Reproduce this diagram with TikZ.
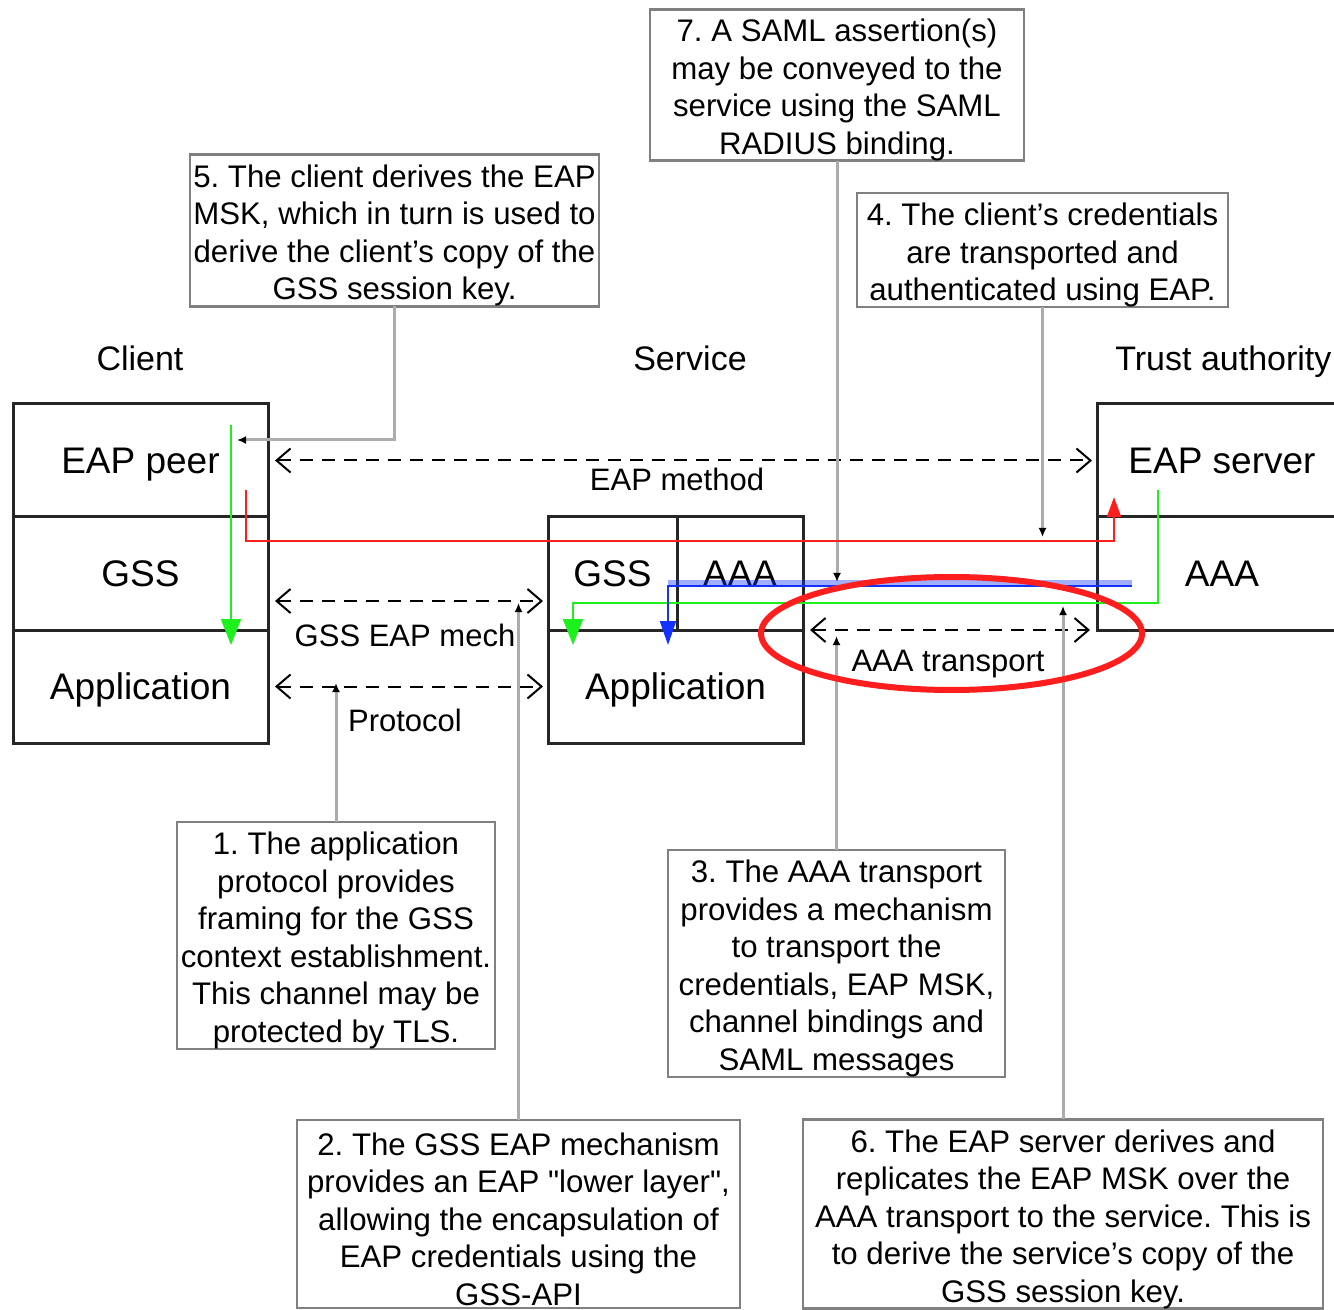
\documentclass[tikz,border=0pt]{standalone}
\usepackage{fontspec}
\setmainfont{Liberation Sans}
\usetikzlibrary{arrows.meta,shapes.geometric}
\definecolor{boxgray}{RGB}{128,128,128}
\definecolor{linegray}{RGB}{172,172,172}
\definecolor{myred}{RGB}{255,30,30}
\definecolor{mygreen}{RGB}{30,240,30}
\definecolor{myblue}{RGB}{20,50,255}
\frenchspacing
\newcommand{\topstrut}{\rule{0pt}{16.3pt}}
\begin{document}
\begin{tikzpicture}[x=0.5pt,y=-0.5pt,
  layer/.style={draw=black!85, line width=1.5pt, minimum width=127.5pt, minimum height=56.5pt, inner sep=0pt, outer sep=0pt, text depth=0pt, font=\fontsize{18.5}{22}\selectfont},
  note/.style={draw=boxgray, line width=1.3pt, align=center, inner sep=0pt, outer sep=0pt, font=\fontsize{15.6}{18.75}\selectfont},
  title/.style={font=\fontsize{17}{20}\selectfont, inner sep=0pt, text depth=0pt},
  lbl/.style={font=\fontsize{15.5}{18}\selectfont, inner sep=0pt, text depth=0pt},
  dasharr/.style={dash pattern=on 6.5pt off 4.5pt, line width=1pt, {Straight Barb[length=7pt,width=12pt]}-{Straight Barb[length=7pt,width=12pt]}},
  annot/.style={draw=linegray, line width=1.5pt, -{Latex[length=4.5pt,width=4pt,color=black]}},
  flow/.style={line width=1.1pt},
]
\clip (0,0) rectangle (1334,1310);
\fill[white] (0,0) rectangle (1334,1310);

% titles
\node[title] (clientlbl) at (140,358) {Client};
\node[title] (servicelbl) at (690,358) {Service};
\node[title, anchor=west] (trustlbl) at (1115,358) {Trust authority};

% stacks
\node[layer] (peer) at (140.5,460.5) {EAP peer};
\node[layer] (cgss) at (140.5,573.5) {GSS};
\node[layer] (capp) at (140.5,686.5) {Application};
\node[layer, minimum width=64.5pt] (sgss) at (612.5,573.5) {GSS};
\node[layer, minimum width=63pt] (saaa) at (740,573.5) {AAA};
\node[layer] (sapp) at (675.5,686.5) {Application};
\node[layer, minimum width=125pt] (tserver) at (1222,460.5) {EAP server};
\node[layer, minimum width=125pt] (taaa) at (1222,573.5) {AAA};

% notes
\node[note, minimum width=204.5pt, minimum height=75.5pt] (n5) at (394.5,230.5)
  {\topstrut 5. The client derives the EAP\\MSK, which in turn is used to\\derive the client's copy of the\\GSS session key.};
\node[note, minimum width=187pt, minimum height=75pt] (n7) at (837,85)
  {\topstrut 7. A SAML assertion(s)\\may be conveyed to the\\service using the SAML\\RADIUS binding.};
\node[note, minimum width=185.5pt, minimum height=56pt] (n4) at (1042.5,250)
  {\topstrut 4. The client's credentials\\are transported and\\authenticated using EAP.};
\node[note, minimum width=159pt, minimum height=113.5pt] (n1) at (336,935.5)
  {\topstrut 1. The application\\protocol provides\\framing for the GSS\\context establishment.\\This channel may be\\protected by TLS.};
\node[note, minimum width=168.5pt, minimum height=113.5pt] (n3) at (836.5,963.5)
  {\topstrut 3. The AAA transport\\provides a mechanism\\to transport the\\credentials, EAP MSK,\\channel bindings and\\SAML messages};
\node[note, minimum width=221.5pt, minimum height=94pt] (n2) at (518.5,1214)
  {\topstrut 2. The GSS EAP mechanism\\provides an EAP \textquotedbl lower layer\textquotedbl,\\allowing the encapsulation of\\EAP credentials using the\\GSS-API};
\node[note, minimum width=260pt, minimum height=94pt] (n6) at (1063,1214)
  {\topstrut 6. The EAP server derives and\\replicates the EAP MSK over the\\AAA transport to the service. This is\\to derive the service's copy of the\\GSS session key.};

% dashed protocol arrows
\draw[dasharr] ([xshift=3.5pt]peer.east) -- ([xshift=-2.5pt]tserver.west);
\draw[dasharr] ([shift={(3.5pt,-13.75pt)}]cgss.east) -- ([shift={(-2.5pt,-13.75pt)}]sgss.west);
\draw[dasharr] ([xshift=3.5pt]capp.east) -- ([xshift=-2.5pt]sapp.west);
\draw[dasharr] ([xshift=3.5pt]sapp.north east) -- ([xshift=-3.5pt]taaa.south west);

\node[lbl] (eapm) at (677,479) {EAP method};
\node[lbl] (gssm) at (405,635) {GSS EAP mech};
\node[lbl] (proto) at (405,720) {Protocol};
\node[lbl] (aaat) at (948,661) {AAA transport};

% annotation leaders
\coordinate (a5) at (237,440);
\coordinate (a7) at (837,582);
\coordinate (a4) at (1042.5,537);
\coordinate (a1) at (336,683);
\coordinate (a2) at (518.5,603);
\coordinate (a3) at (836.5,636);
\coordinate (a6) at (1063,606);
\draw[annot] (n5.south) |- (a5);
\draw[annot] (n7.south) -- (a7);
\draw[annot] (n4.south) -- (a4);
\draw[annot] (n1.north) -- (a1);
\draw[annot] (n2.north) -- (a2);
\draw[annot] (n3.north) -- (a3);
\draw[annot] (n6.north) -- (a6);

% coloured flows
\coordinate (r0) at (246,490);
\coordinate (r1) at (1114,497);
\draw[myred, flow, -{Triangle[length=10pt,width=7pt]}] (r0) -- ++(0,51) -| (r1);
\coordinate (g0) at (231,425);
\coordinate (g1) at (231,645);
\draw[mygreen, flow, -{Triangle[length=13pt,width=10pt]}] (g0) -- (g1);
\coordinate (g2) at (1158,490);
\coordinate (g3) at (573,645);
\draw[mygreen, flow, -{Triangle[length=13pt,width=10pt]}] (g2) -- ++(0,113) -| (g3);
\coordinate (b0) at (1132,586);
\coordinate (b1) at (668,645);
\draw[myblue, opacity=0.4, line width=2.5pt] ([yshift=1.5pt]b0) -- ++(-464,0);
\draw[myblue, flow, -{Triangle[length=12pt,width=8pt]}] (b0) -| (b1);

% highlight ring
\node[ellipse, draw=myred, line width=3pt, minimum width=190.5pt, minimum height=56.5pt, inner sep=0pt] (ring) at (951.5,633.5) {};
\end{tikzpicture}
\end{document}
